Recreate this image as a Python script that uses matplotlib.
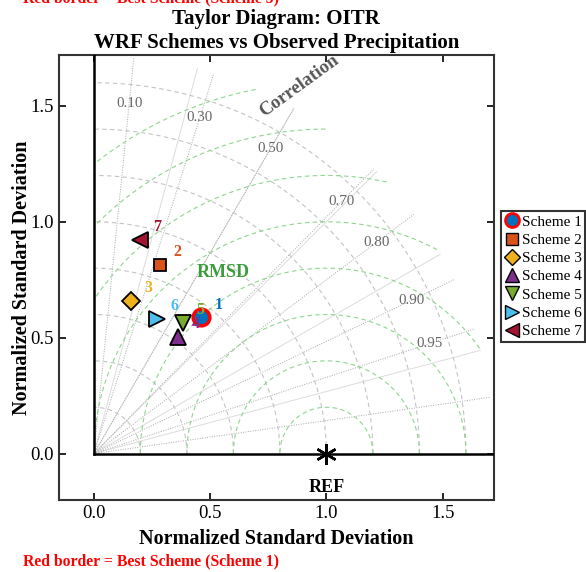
import numpy as np
import matplotlib
matplotlib.use("Agg")
import matplotlib.pyplot as plt
from matplotlib.lines import Line2D

plt.rcParams['font.family'] = ['Liberation Serif', 'DejaVu Serif']

# --- данные (нормированное СКО и корреляция) ---
schemes = ["Scheme 1", "Scheme 2", "Scheme 3", "Scheme 4", "Scheme 5", "Scheme 6", "Scheme 7"]
std_norm = [0.747, 0.863, 0.678, 0.621, 0.683, 0.642, 0.943]
corr = [0.617, 0.329, 0.235, 0.583, 0.562, 0.423, 0.210]
markers = ["o", "s", "D", "^", "v", ">", "<"]
colors = ["#0072BD", "#D95319", "#EDB120", "#7E2F8E", "#77AC30", "#4DBEEE", "#A2142F"]
best = 0

corr_labels = [0.10, 0.30, 0.50, 0.70, 0.80, 0.90, 0.95]
corr_lines = [0.10, 0.30, 0.50, 0.70, 0.80, 0.90, 0.95, 0.99]
std_arcs = [0.2, 0.4, 0.6, 0.8, 1.0, 1.2, 1.4, 1.6]
rms_arcs = [0.2, 0.4, 0.6, 0.8, 1.0, 1.2, 1.4, 1.6]
max_std = 1.72

fig = plt.figure(figsize=(5.86, 5.72), dpi=100)
ax = fig.add_axes([0.1007, 0.126, 0.742, 0.778])

# сетка: лучи через каждые 15 градусов
for deg in [15, 30, 45, 60, 75]:
    t = np.radians(deg)
    ax.plot([0, max_std * np.cos(t)], [0, max_std * np.sin(t)], color="#dcdcdc", lw=0.7, zorder=1)

# линии корреляции
for c in corr_lines:
    t = np.arccos(c)
    ax.plot([0, max_std * np.cos(t)], [0, max_std * np.sin(t)], color="#a8a8a8", lw=0.7,
            linestyle=(0, (1, 1.5)), zorder=1)

# дуги СКО
th = np.linspace(0, np.pi / 2, 300)
for r in std_arcs:
    ax.plot(r * np.cos(th), r * np.sin(th), color="#c4c4c4", lw=0.8, linestyle=(0, (4, 3)), zorder=1)

# дуги RMSD вокруг REF
phi = np.linspace(0, np.pi, 600)
for r in rms_arcs:
    x = 1 + r * np.cos(phi)
    y = r * np.sin(phi)
    mask = (x >= 0) & (np.hypot(x, y) <= max_std)
    x = np.where(mask, x, np.nan)
    ax.plot(x, y, color="#8fd48f", lw=0.8, linestyle=(0, (4, 3)), zorder=1)

# подписи корреляции
for c in corr_labels:
    t = np.arccos(c)
    ax.text(1.52 * np.cos(t), 1.52 * np.sin(t), f"{c:.2f}", color="#666666", fontsize=10.8,
            ha="center", va="center", zorder=2)

ax.text(0.885, 1.585, "Correlation", color="#555555", fontsize=13.5, fontweight="bold",
        rotation=36, ha="center", va="center")
ax.text(0.556, 0.78, "RMSD", color="#3c9c3c", fontsize=13, fontweight="bold",
        ha="center", va="center")

# оси
ax.plot([0, 0], [0, 2], color="black", lw=1.8, zorder=3)
ax.plot([0, 2], [0, 0], color="black", lw=1.8, zorder=3)

# REF
ax.plot(1, 0, marker=(6, 2, 0), color="black", ms=15, mew=1.8, zorder=5)
ax.text(1, -0.147, "REF", fontsize=13, fontweight="bold", ha="center", va="center")

# схемы
for i, (s, c) in enumerate(zip(std_norm, corr)):
    x, y = s * c, s * np.sqrt(1 - c ** 2)
    if i == best:
        ax.plot(x, y, marker=markers[i], color=colors[i], ms=12, mec="red", mew=2.5, zorder=6)
    else:
        ms = 9 if markers[i] in ("s", "D") else 11
        ax.plot(x, y, marker=markers[i], color=colors[i], ms=ms, mec="black", mew=1.3, zorder=6)
    ax.text(x + 0.075, y + 0.055, str(i + 1), color=colors[i], fontsize=11.5, fontweight="bold",
            ha="center", va="center", zorder=7)

ax.set_xlim(-0.15, 1.72)
ax.set_ylim(-0.2, 1.72)
ax.set_xticks([0, 0.5, 1.0, 1.5])
ax.set_yticks([0, 0.5, 1.0, 1.5])
ax.set_xticklabels(["0.0", "0.5", "1.0", "1.5"])
ax.set_yticklabels(["0.0", "0.5", "1.0", "1.5"])
ax.tick_params(direction="in", top=True, right=True, length=5, width=1.2, labelsize=13.5)
for sp in ax.spines.values():
    sp.set_linewidth(1.5)
    sp.set_color("#333333")

ax.set_xlabel("Normalized Standard Deviation", fontsize=14.5, fontweight="bold", labelpad=5)
ax.set_ylabel("Normalized Standard Deviation", fontsize=14.5, fontweight="bold", labelpad=-1)
ax.set_title("Taylor Diagram: OITR\nWRF Schemes vs Observed Precipitation", fontsize=15,
             fontweight="bold", pad=5, linespacing=1.25)

# легенда
handles = []
for i in range(len(schemes)):
    ms = 8 if markers[i] in ("s", "D") else 10
    if i == best:
        h = Line2D([0], [0], marker=markers[i], color=colors[i], ms=10, mec="red", mew=2, lw=0)
    else:
        h = Line2D([0], [0], marker=markers[i], color=colors[i], ms=ms, mec="black", mew=1, lw=0)
    handles.append(h)
leg = fig.legend(handles, schemes, loc="upper left", bbox_to_anchor=(0.855, 0.631),
                 fontsize=11, handlelength=1.0, handletextpad=0.1, labelspacing=0.3,
                 borderpad=0.25, borderaxespad=0, fancybox=False, framealpha=1)
leg.get_frame().set_edgecolor("#333333")
leg.get_frame().set_linewidth(1.5)

fig.text(0.04, 0.996, "Red border = Best Scheme (Scheme 5)", color="red", fontsize=11.3,
         fontweight="bold", va="baseline")
fig.text(0.04, 0.012, "Red border = Best Scheme (Scheme 1)", color="red", fontsize=11.3,
         fontweight="bold", va="baseline")

fig.savefig("out.png", dpi=100)
